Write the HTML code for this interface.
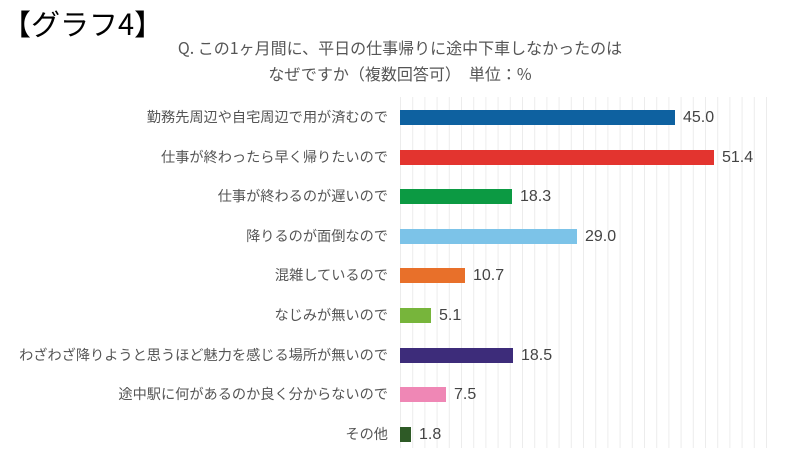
<!DOCTYPE html>
<html><head><meta charset="utf-8"><style>
body{margin:0;width:800px;height:450px;background:#fff;overflow:hidden;position:relative;font-family:"Liberation Sans","Noto Sans CJK JP",sans-serif}
.t{position:absolute;left:2px;top:2px;font-size:29px;color:#000;font-family:"Noto Sans CJK JP",sans-serif}
.h{position:absolute;left:0;width:800px;text-align:center;font-size:16px;color:#555;font-family:"Noto Sans CJK JP",sans-serif}
.l{position:absolute;right:412px;font-size:14.2px;color:#555;white-space:nowrap;font-family:"Noto Sans CJK JP",sans-serif;line-height:16px}
.b{position:absolute;left:400px;height:15px}
.v{position:absolute;font-size:16px;color:#444;line-height:16px}
</style></head><body>
<svg width="800" height="450" style="position:absolute;left:0;top:0">
<g stroke="#ececec" stroke-width="1">
<line x1="400.5" y1="97" x2="400.5" y2="448"/>
<line x1="412.7" y1="97" x2="412.7" y2="448"/><line x1="424.9" y1="97" x2="424.9" y2="448"/><line x1="437.1" y1="97" x2="437.1" y2="448"/><line x1="449.3" y1="97" x2="449.3" y2="448"/><line x1="461.5" y1="97" x2="461.5" y2="448"/><line x1="473.7" y1="97" x2="473.7" y2="448"/><line x1="485.9" y1="97" x2="485.9" y2="448"/><line x1="498.1" y1="97" x2="498.1" y2="448"/><line x1="510.3" y1="97" x2="510.3" y2="448"/><line x1="522.5" y1="97" x2="522.5" y2="448"/><line x1="534.7" y1="97" x2="534.7" y2="448"/><line x1="546.9" y1="97" x2="546.9" y2="448"/><line x1="559.1" y1="97" x2="559.1" y2="448"/><line x1="571.3" y1="97" x2="571.3" y2="448"/><line x1="583.5" y1="97" x2="583.5" y2="448"/><line x1="595.7" y1="97" x2="595.7" y2="448"/><line x1="607.9" y1="97" x2="607.9" y2="448"/><line x1="620.1" y1="97" x2="620.1" y2="448"/><line x1="632.3" y1="97" x2="632.3" y2="448"/><line x1="644.5" y1="97" x2="644.5" y2="448"/><line x1="656.7" y1="97" x2="656.7" y2="448"/><line x1="668.9" y1="97" x2="668.9" y2="448"/><line x1="681.1" y1="97" x2="681.1" y2="448"/><line x1="693.3" y1="97" x2="693.3" y2="448"/><line x1="705.5" y1="97" x2="705.5" y2="448"/><line x1="717.7" y1="97" x2="717.7" y2="448"/><line x1="729.9" y1="97" x2="729.9" y2="448"/><line x1="742.1" y1="97" x2="742.1" y2="448"/><line x1="754.3" y1="97" x2="754.3" y2="448"/><line x1="766.5" y1="97" x2="766.5" y2="448"/>
</g></svg>
<div class="t">【グラフ4】</div>
<div class="h" style="top:35px">Q. この1ヶ月間に、平日の仕事帰りに途中下車しなかったのは</div>
<div class="h" style="top:61px">なぜですか（複数回答可）　単位：%</div>

<div class="l" style="top:109px">勤務先周辺や自宅周辺で用が済むので</div>
<div class="b" style="top:110px;width:275px;background:#0e61a0"></div><div class="v" style="left:683px;top:110px">45.0</div>
<div class="l" style="top:149px">仕事が終わったら早く帰りたいので</div>
<div class="b" style="top:150px;width:314px;background:#e3342f"></div><div class="v" style="left:722px;top:150px">51.4</div>
<div class="l" style="top:188px">仕事が終わるのが遅いので</div>
<div class="b" style="top:189px;width:112px;background:#0c9a43"></div><div class="v" style="left:520px;top:189px">18.3</div>
<div class="l" style="top:228px">降りるのが面倒なので</div>
<div class="b" style="top:229px;width:177px;background:#7cc3e8"></div><div class="v" style="left:585px;top:229px">29.0</div>
<div class="l" style="top:267px">混雑しているので</div>
<div class="b" style="top:268px;width:65px;background:#e8702a"></div><div class="v" style="left:473px;top:268px">10.7</div>
<div class="l" style="top:307px">なじみが無いので</div>
<div class="b" style="top:308px;width:31px;background:#77b53b"></div><div class="v" style="left:439px;top:308px">5.1</div>
<div class="l" style="top:347px">わざわざ降りようと思うほど魅力を感じる場所が無いので</div>
<div class="b" style="top:348px;width:113px;background:#3d2c7a"></div><div class="v" style="left:521px;top:348px">18.5</div>
<div class="l" style="top:386px">途中駅に何があるのか良く分からないので</div>
<div class="b" style="top:387px;width:46px;background:#ef87b5"></div><div class="v" style="left:454px;top:387px">7.5</div>
<div class="l" style="top:426px">その他</div>
<div class="b" style="top:427px;width:11px;background:#2e5a26"></div><div class="v" style="left:419px;top:427px">1.8</div>
</body></html>
